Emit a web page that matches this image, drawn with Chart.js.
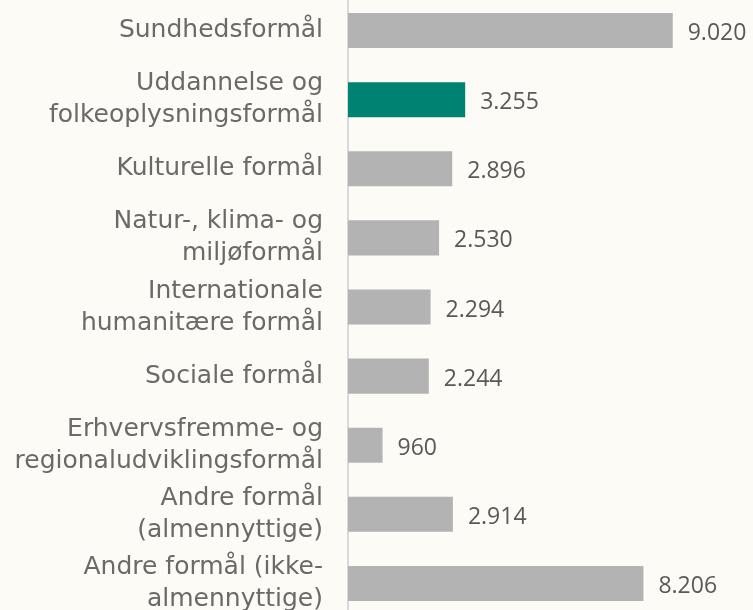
<!DOCTYPE html>
<html>
<head>
<meta charset="utf-8">
<script src="https://cdn.jsdelivr.net/npm/chart.js@4/dist/chart.umd.min.js"></script>
<style>
  html, body { margin: 0; padding: 0; background: #FDFBF6; overflow: hidden; }
  #wrap { position: absolute; left: 0; top: -4px; width: 753px; height: 622px; }
</style>
</head>
<body>
<div id="wrap"><canvas id="c"></canvas></div>
<script>
const categories = [
  "Sundhedsformål",
  ["Uddannelse og", "folkeoplysningsformål"],
  "Kulturelle formål",
  ["Natur-, klima- og", "miljøformål"],
  ["Internationale", "humanitære formål"],
  "Sociale formål",
  ["Erhvervsfremme- og", "regionaludviklingsformål"],
  ["Andre formål", "(almennyttige)"],
  ["Andre formål (ikke-", "almennyttige)"]
];
const values = [9020, 3255, 2896, 2530, 2294, 2244, 960, 2914, 8206];
const barColors = ["#B3B3B3", "#008273", "#B3B3B3", "#B3B3B3", "#B3B3B3", "#B3B3B3", "#B3B3B3", "#B3B3B3", "#B3B3B3"];

function fmt(v) {
  return String(v).replace(/\B(?=(\d{3})+(?!\d))/g, ".");
}

const valueLabels = {
  id: "valueLabels",
  afterDatasetsDraw(chart) {
    const ctx = chart.ctx;
    const meta = chart.getDatasetMeta(0);
    ctx.save();
    ctx.font = "23px 'Open Sans'";
    ctx.fillStyle = "#595959";
    ctx.textAlign = "left";
    ctx.textBaseline = "middle";
    meta.data.forEach((el, i) => {
      ctx.fillText(fmt(values[i]), el.x + 15, el.y + 3);
    });
    ctx.restore();
  }
};

new Chart(document.getElementById("c"), {
  type: "bar",
  data: {
    labels: categories,
    datasets: [{
      data: values,
      backgroundColor: barColors,
      borderWidth: 0,
      categoryPercentage: 1,
      barPercentage: 0.507
    }]
  },
  options: {
    indexAxis: "y",
    responsive: true,
    maintainAspectRatio: false,
    animation: false,
    layout: { padding: 0 },
    plugins: { legend: { display: false }, tooltip: { enabled: false } },
    scales: {
      x: { display: false, min: 0, max: 11250 },
      y: {
        afterFit(s) { s.width = 348; s.paddingTop = 0; s.paddingBottom = 0; },
        grid: { display: false, drawTicks: false },
        border: { display: true, color: "#D9D9D9", width: 2 },
        ticks: {
          autoSkip: false,
          padding: 25,
          color: "#6A6A6A",
          font: { family: "'DejaVu Sans'", size: 25, lineHeight: 1.28 }
        }
      }
    }
  },
  plugins: [valueLabels]
});
</script>
</body>
</html>
